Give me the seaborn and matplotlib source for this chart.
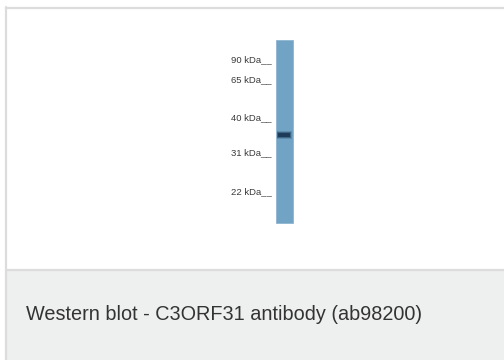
import matplotlib
matplotlib.use("Agg")
import matplotlib.pyplot as plt
from matplotlib.patches import Rectangle
import seaborn as sns

# marker ladder (migration position in panel pixels, top = 0)
marker_kda = [90, 65, 40, 31, 22]
marker_pos = [60, 80, 118, 153, 192]

# single lane and its detected band
lane_top = 40
lane_bottom = 224
band_pos = [135]
band_strength = [1.0]

caption = "Western blot - C3ORF31 antibody (ab98200)"

sns.set_theme(style="white")
plt.rcParams["font.family"] = ["Liberation Sans", "DejaVu Sans"]

W, H = 504, 360
fig = plt.figure(figsize=(W / 100, H / 100), dpi=100)
fig.patch.set_facecolor("white")

# caption strip and panel frame (figure-level decoration)
fig.patches.append(Rectangle((5 / W, 0), 1, 90 / H, transform=fig.transFigure,
                             facecolor="#eeefef", edgecolor="none", zorder=0))
fig.lines.append(plt.Line2D([5.5 / W, 5.5 / W], [0, 1 - 7 / H], transform=fig.transFigure,
                            color="#dcdcdc", lw=1.6))
fig.lines.append(plt.Line2D([5.5 / W, 1], [1 - 7.5 / H, 1 - 7.5 / H], transform=fig.transFigure,
                            color="#dcdcdc", lw=1.6))
fig.lines.append(plt.Line2D([5.5 / W, 1], [90 / H, 90 / H], transform=fig.transFigure,
                            color="#dcdcdc", lw=1.6))

# blot axes covers the white panel, data units = panel pixels
ax = fig.add_axes([6 / W, 91 / H, (W - 6) / W, 261 / H])
ax.set_xlim(6, W)
ax.set_ylim(270, 8)
ax.axis("off")

lane_x = 284.5
ax.bar(lane_x, lane_bottom - lane_top, bottom=lane_top, width=17,
       color="#71a3c5", edgecolor="#8fb5d0", linewidth=0.6)

# band: a few soft layers to mimic the blur
for w, h, a in [(15, 8, 0.2), (14, 6, 0.45), (12, 4, 0.9)]:
    for p, s in zip(band_pos, band_strength):
        ax.bar(lane_x, h, bottom=p - h / 2, width=w, color="#1b3855", alpha=a * s, linewidth=0)

for kda, pos in zip(marker_kda, marker_pos):
    ax.text(272, pos, f"{kda} kDa__", ha="right", va="center", fontsize=6.8, color="#3a3a3a")

fig.text(26 / W, 1 - 314 / H, caption, ha="left", va="center", fontsize=14.3, color="#333333")

fig.savefig("out.png", dpi=100)
